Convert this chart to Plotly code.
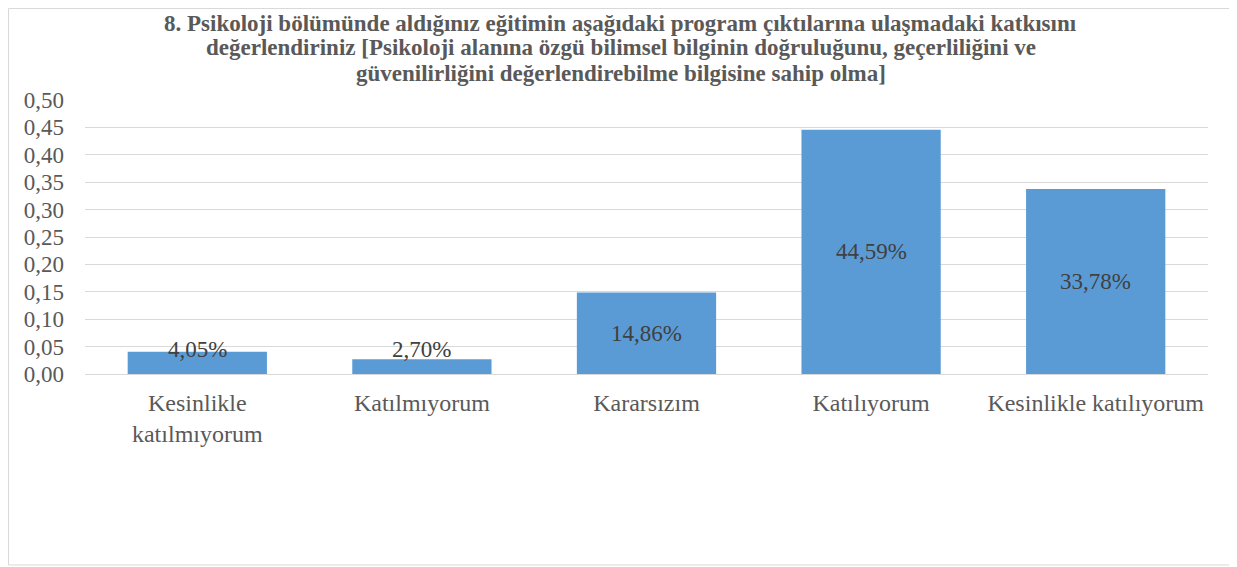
import plotly.graph_objects as go

categories = ["Kesinlikle<br>katılmıyorum", "Katılmıyorum", "Kararsızım", "Katılıyorum", "Kesinlikle katılıyorum"]
values = [0.0405, 0.0270, 0.1486, 0.4459, 0.3378]
title_lines = [
    "8. Psikoloji bölümünde aldığınız eğitimin aşağıdaki program çıktılarına ulaşmadaki katkısını",
    "değerlendiriniz [Psikoloji alanına özgü bilimsel bilginin doğruluğunu, geçerliliğini ve",
    "güvenilirliğini değerlendirebilme bilgisine sahip olma]",
]
y_ticks = [0.0, 0.05, 0.10, 0.15, 0.20, 0.25, 0.30, 0.35, 0.40, 0.45, 0.50]

FONT = "Liberation Serif, Times New Roman, serif"

fig = go.Figure()
fig.add_trace(go.Bar(
    x=categories, y=values,
    marker=dict(color="#5B9BD5", line=dict(width=0)),
    hoverinfo="skip",
))

labels = [f"{v*100:.2f}%".replace(".", ",") for v in values]
for c, v, t in zip(categories, values, labels):
    fig.add_annotation(
        x=c, y=max(v / 2, 0.0445), text=t, showarrow=False,
        xref="x", yref="y", yanchor="middle",
        font=dict(family=FONT, size=23, color="#404040"),
    )

title_y = [1.281, 1.1898, 1.0949]
for line, ty in zip(title_lines, title_y):
    fig.add_annotation(
        x=0.4769, y=ty, xref="paper", yref="paper",
        yanchor="middle", xanchor="center",
        text="<b>" + line + "</b>",
        showarrow=False,
        font=dict(family=FONT, size=23, color="#595959"),
    )

fig.add_shape(
    type="rect", xref="paper", yref="paper",
    x0=-0.0681, x1=1.0214, y0=-0.697, y1=1.3339,
    line=dict(color="#D9D9D9", width=1), fillcolor="rgba(0,0,0,0)", layer="below",
)

fig.update_layout(
    width=1229, height=559,
    margin=dict(l=77, r=29, t=92, b=193),
    paper_bgcolor="white", plot_bgcolor="white",
    bargap=0.38,
    showlegend=False,
    separators=",.",
    font=dict(family=FONT, size=23, color="#595959"),
)
fig.update_yaxes(
    range=[0, 0.5], tickvals=y_ticks, tickformat=".2f",
    showgrid=True, gridcolor="#D9D9D9", gridwidth=1,
    zeroline=True, zerolinecolor="#D9D9D9", zerolinewidth=1,
    showline=False, ticks="", ticklabelstandoff=20,
    tickfont=dict(family=FONT, size=23, color="#595959"),
)
fig.update_xaxes(
    showline=True, linecolor="#D9D9D9", linewidth=1, ticks="",
    showgrid=False, ticklabelstandoff=7,
    tickfont=dict(family=FONT, size=24, color="#595959"),
)

fig.write_html("out.html")
